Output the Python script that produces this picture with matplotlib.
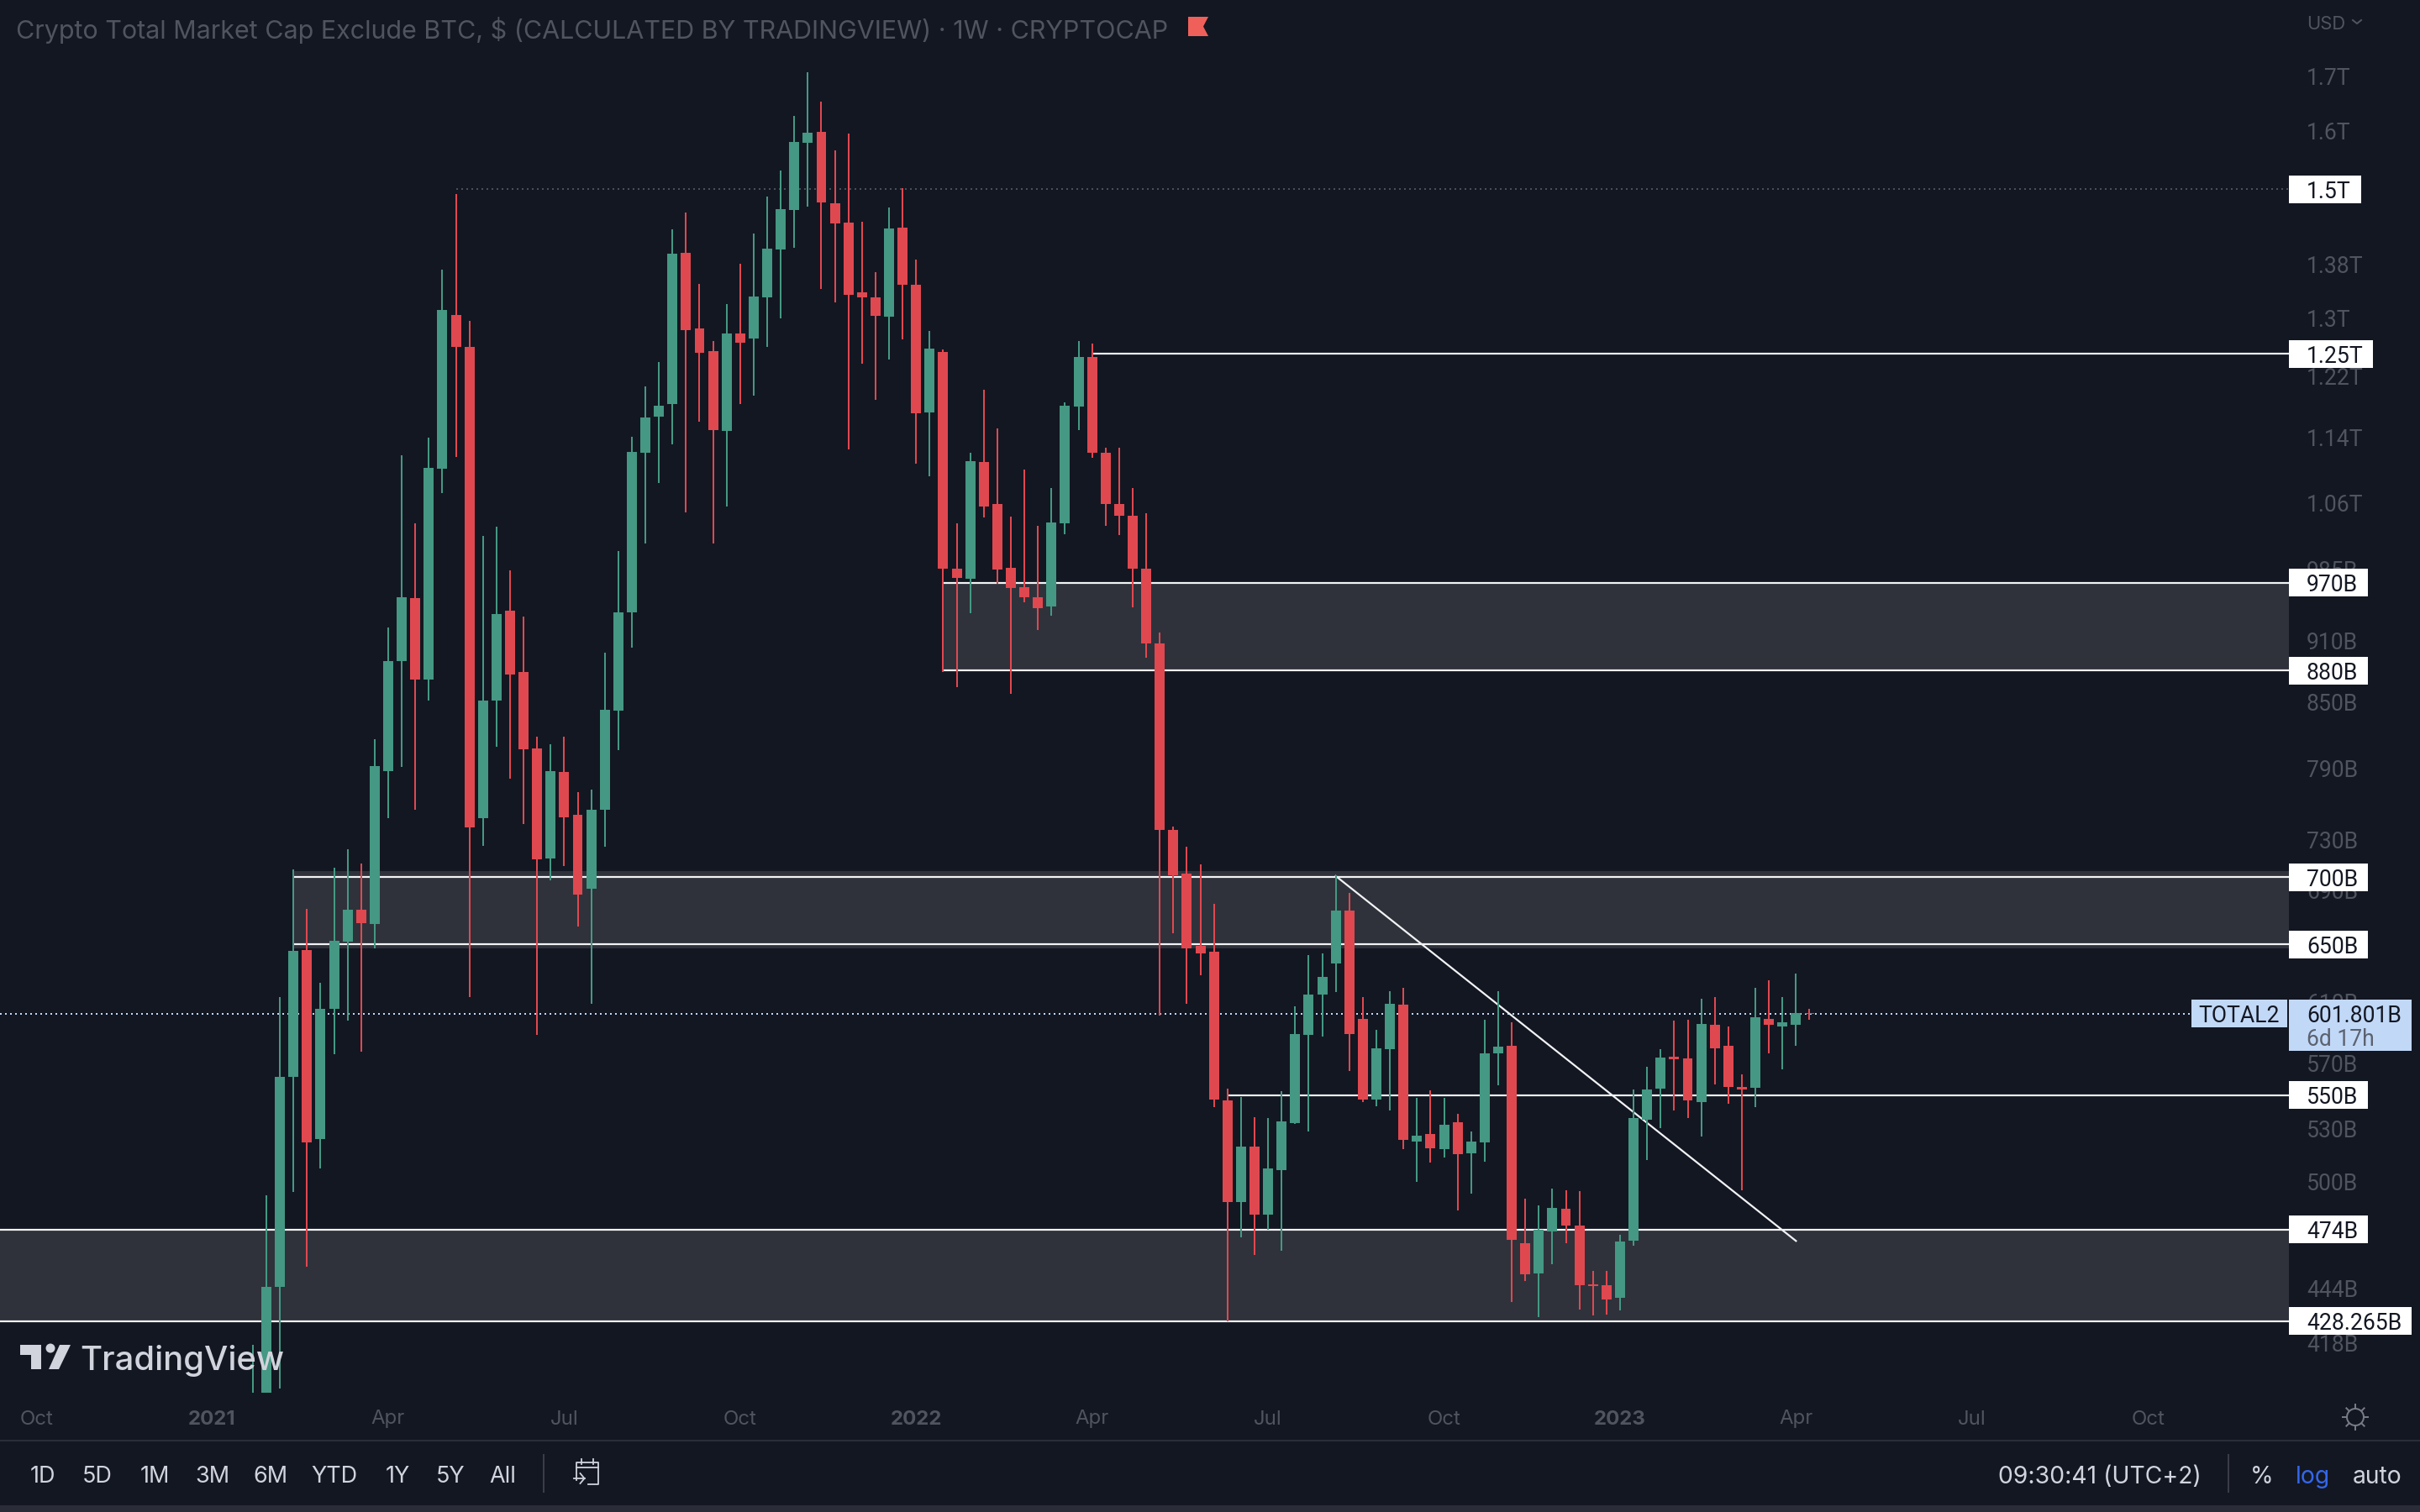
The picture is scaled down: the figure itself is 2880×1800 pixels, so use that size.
import numpy as np
import matplotlib
matplotlib.use("Agg")
import matplotlib.pyplot as plt
import matplotlib.dates as mdates
from matplotlib.patches import Rectangle, Polygon, Circle
from matplotlib.ticker import NullLocator

# ---- data (billions of USD, weekly candles) ----
first_week = "2021-01-25"
opens = [380,392,444.9,561.2,646.1,523.9,604.9,652.1,675.6,665.0,787.7,889.0,953.2,871.7,1101.0,1305.2,1259.9,747.1,851.0,940.0,
878.3,807.7,714.5,786.9,749.9,691.5,754.1,841.5,939.1,1120.6,1166.3,1181.7,1398.2,1285.9,1254.1,1147.0,1278.8,1271.6,1331.0,1403.4,
1466.2,1579.3,1598.5,1477.1,1445.8,1338.4,1331.0,1302.7,1437.8,1349.7,1171.7,1252.9,985.6,974.7,1109.2,1058.8,986.5,964.8,954.9,944.4,
1036.3,1179.4,1245.8,1120.6,1058.8,1045.1,985.6,907.3,738.0,702.6,649.0,644.8,546.9,488.5,519.6,482.0,506.2,533.2,588.2,614.5,
636.4,674.9,598.7,547.4,578.8,607.7,522.5,526.8,518.0,533.7,515.7,521.9,576.1,581.0,466.8,451.5,472.9,484.8,476.0,446.0,
445.7,439.5,468.1,535.3,554.1,573.9,572.9,545.8,594.7,581.0,555.1,554.6,598.7,593.6,594.7,602.6]
highs = [417.2,492.2,612.8,705.9,676.2,623.1,707.8,722.4,711.1,815.3,923.5,1117.5,1036.3,1139.5,1372.5,1492.2,1296.7,1022.0,1032.5,983.8,
933.9,817.6,810.8,818.3,769.6,771.1,898.1,1004.2,1140.6,1205.0,1238.9,1435.1,1462.0,1350.8,1268.1,1321.1,1381.4,1428.4,1488.1,1531.6,
1627.0,1707.7,1653.0,1566.2,1595.5,1447.2,1368.6,1470.3,1502.0,1387.8,1282.3,1256.3,1036.3,1120.6,1201.5,1151.2,1044.1,1099.9,1033.5,1077.7,
1184.9,1268.1,1264.5,1126.8,1126.8,1077.7,1047.1,918.3,740.8,723.8,709.8,679.9,554.1,548.9,536.8,536.3,552.5,607.1,642.4,643.7,
701.3,688.2,613.3,591.4,617.3,619.6,548.4,553.0,548.4,538.8,528.4,598.1,617.3,596.4,490.4,486.7,495.9,495.0,494.5,452.8,
452.8,471.3,553.5,567.6,578.8,597.1,598.1,612.2,613.3,593.6,562.8,619.6,624.8,613.3,629.4,604.9]
lows = [375,385,397.5,494.1,454.9,507.1,575.6,597.1,577.1,646.8,747.1,791.3,754.1,851.0,1071.7,1115.4,613.3,724.5,809.2,781.1,
742.2,587.7,697.4,708.5,663.1,608.8,723.8,806.2,902.3,1013.5,1083.7,1131.1,1048.1,1158.8,1013.5,1055.8,1182.7,1193.7,1259.9,1300.3,
1406.0,1471.6,1343.4,1323.5,1123.8,1236.7,1187.2,1242.4,1270.5,1107.1,1091.8,878.3,864.5,938.2,1043.0,968.4,858.0,948.8,920.9,934.8,
1023.9,1149.1,1113.4,1033.5,1023.0,943.5,892.3,600.4,658.2,608.8,628.3,542.8,428.265,469.9,460.9,473.7,463.0,532.7,528.4,586.6,
616.7,564.8,545.8,543.3,540.8,518.1,499.6,510.4,513.2,483.9,493.1,510.9,556.1,437.4,447.7,430.2,456.2,466.8,433.8,431.0,
431.4,433.4,465.5,511.8,530.3,540.8,536.3,525.4,556.6,544.8,495.0,542.8,576.1,566.0,581.0,598.1]
closes = [394,444.9,561.2,645.5,521.9,604.9,652.7,675.6,665.6,792.1,889.7,954.1,871.7,1102.0,1312.5,1259.9,739.5,851.7,936.5,876.6,
807.0,713.8,787.7,748.4,687.0,754.7,842.3,939.1,1121.6,1165.2,1180.5,1396.9,1283.5,1251.7,1149.1,1278.8,1265.7,1332.1,1404.7,1467.5,
1580.6,1597.1,1478.5,1444.5,1334.6,1331.0,1304.0,1436.5,1349.7,1170.6,1257.5,985.6,975.6,1110.2,1055.8,984.7,963.9,954.9,942.7,1037.3,
1180.5,1245.8,1119.6,1058.8,1045.1,985.6,906.5,738.0,701.9,647.3,643.7,547.4,488.5,519.6,482.0,507.1,534.2,588.7,614.5,627.1,
674.9,588.7,547.4,579.5,608.3,523.4,525.9,518.5,532.3,515.2,522.5,576.1,580.4,468.6,451.1,473.7,485.3,476.0,445.7,445.3,
438.7,467.7,536.3,553.5,573.4,572.4,546.9,595.3,579.5,555.1,553.5,599.8,594.7,596.4,602.6,601.801]

price_ticks = [1700,1600,1380,1300,1220,1140,1060,985,910,850,790,730,690,610,570,530,500,444,418]
price_labels = ["1.7T","1.6T","1.38T","1.3T","1.22T","1.14T","1.06T","985B","910B","850B","790B","730B","690B",
                "610B","570B","530B","500B","444B","418B"]
time_ticks = ["2020-10-05","2021-01-04","2021-04-05","2021-07-05","2021-10-04","2022-01-03","2022-04-04",
              "2022-07-04","2022-10-03","2023-01-02","2023-04-03","2023-07-03","2023-10-02"]
time_labels = ["Oct","2021","Apr","Jul","Oct","2022","Apr","Jul","Oct","2023","Apr","Jul","Oct"]
bold_labels = ["2021","2022","2023"]

zone_starts = ["2021-02-15","2022-01-17","2020-09-01"]
zone_highs = [704.7,970,474]
zone_lows = [646.8,880,428.265]
level_values = [700,650,970,880,474,428.265,550,1250]
level_starts = ["2021-02-15","2021-02-15","2022-01-17","2022-01-17","2020-09-01","2020-09-01","2022-06-13","2022-04-04"]
dotted_value = 1500
dotted_start = "2021-05-10"
last_price = 601.801
trend_dates = ["2022-08-08","2023-04-03"]
trend_values = [701.0,468.0]
box_values = [1500,1250,970,880,700,650,550,474,428.265]
box_labels = ["1.5T","1.25T","970B","880B","700B","650B","550B","474B","428.265B"]
range_buttons = ["1D","5D","1M","3M","6M","YTD","1Y","5Y","All"]

# ---- style ----
BG = "#131722"
UP = "#459883"
DOWN = "#E04850"
ZONE = "#2F323B"
GRAY = "#50545F"
TXT = "#D1D4DC"
BLUE = "#C1D8F7"
FONT = ["Inter", "DejaVu Sans"]
PRICE_FONT = ["Roboto", "DejaVu Sans"]
plt.rcParams["font.family"] = FONT
W, H = 2880, 1800
DPI = 100
px = 72 / DPI  # points per pixel

fig = plt.figure(figsize=(W / DPI, H / DPI), dpi=DPI, facecolor=BG)
PANE_R, PANE_B = 2724, 1658
ax = fig.add_axes([0, 1 - PANE_B / H, PANE_R / W, PANE_B / H], facecolor=BG)
ax.set_yscale("log")
ax.set_ylim(395.6, 1849.2)
d0 = mdates.date2num(np.datetime64("2021-02-01"))
ax.set_xlim(d0 - 137.74, d0 + 1045.9)
ax.xaxis_date()

num = lambda s: mdates.date2num(np.datetime64(s))
right = ax.get_xlim()[1]
left = ax.get_xlim()[0]

# zones and levels
for s, hi, lo in zip(zone_starts, zone_highs, zone_lows):
    x0 = max(num(s), left)
    ax.fill_between([x0, right], lo, hi, color=ZONE, lw=0, zorder=1)
for v, s in zip(level_values, level_starts):
    x0 = max(num(s), left)
    ax.plot([x0, right], [v, v], color="#F2F3F5", lw=2.2 * px, zorder=2, solid_capstyle="butt")
ax.plot([num(dotted_start), right], [dotted_value] * 2, color="#5A5D66", lw=1.6 * px, zorder=2,
        dashes=(2 / 1.6, 4 / 1.6))
ax.plot([left, right], [last_price] * 2, color=BLUE, lw=2 * px, zorder=2, dashes=(1, 2))
ax.plot([num(t) for t in trend_dates], trend_values, color="#F2F3F5", lw=2.2 * px, zorder=2)

# candles
dates = np.datetime64(first_week) + 7 * np.arange(len(opens)) * np.timedelta64(1, "D")
xs = mdates.date2num(dates)
o, h, l, c = map(np.array, (opens, highs, lows, closes))
colors = [UP if b >= a else DOWN for a, b in zip(o, c)]
ax.vlines(xs, l, h, colors=colors, lw=2.0 * px, zorder=3, capstyle="butt")
ax.bar(xs, np.abs(c - o), bottom=np.minimum(o, c), width=5.2, color=colors, lw=0, zorder=4)

for s in ax.spines.values():
    s.set_visible(False)
ax.yaxis.tick_right()
ax.set_yticks(price_ticks)
ax.set_yticklabels(price_labels, family=PRICE_FONT)
ax.yaxis.set_minor_locator(NullLocator())
ax.tick_params(axis="y", length=0, pad=21 * px, labelsize=26.5 * px, labelcolor=GRAY)
ax.set_xticks([num(t) for t in time_ticks])
ax.set_xticklabels(time_labels)
ax.tick_params(axis="x", length=0, pad=20.5 * px, labelsize=24 * px, labelcolor=GRAY)
for t in ax.get_xticklabels():
    if t.get_text() in bold_labels:
        t.set_fontweight("bold")

# ---- chart furniture in screen pixels ----
ov = fig.add_axes([0, 0, 1, 1], facecolor="none", zorder=5)
ov.set_xlim(0, W)
ov.set_ylim(H, 0)
ov.axis("off")
fig.canvas.draw()


def ypx(v):
    return H - ax.transData.transform((left, v))[1]


def label(x, y, s, color=TXT, size=27, ha="center", **kw):
    ov.text(x, y, s, color=color, fontsize=size * px, ha=ha, va="center_baseline", **kw)


# price boxes
box_right = {"1.5T": 2810, "1.25T": 2824, "428.265B": 2870}
for v, s in zip(box_values, box_labels):
    y = ypx(v)
    ov.add_patch(Rectangle((2724, y - 16.5), box_right.get(s, 2818) - 2724, 33, fc="white", ec="none", zorder=3))
    label(2745, y, s, color="#131722", size=26.5, ha="left", zorder=4, family=PRICE_FONT)

ylast = ypx(last_price)
ov.add_patch(Rectangle((2608, ylast - 17), 114, 33, fc=BLUE, ec="none", zorder=3))
ov.add_patch(Rectangle((2724, ylast - 17), 146, 61.5, fc=BLUE, ec="none", zorder=3))
label(2665, ylast, "TOTAL2", color="#131722", size=26.5, zorder=4, family=PRICE_FONT)
label(2745, ylast, "601.801B", color="#131722", size=26.5, ha="left", zorder=4, family=PRICE_FONT)
label(2745, ylast + 28, "6d 17h", color="#5B6270", size=26.5, ha="left", zorder=4, family=PRICE_FONT)
# the price line stops at its label: cover the gap between the two label boxes
ov.add_patch(Rectangle((2722, ylast - 2), 2, 4, fc=BG, ec="none", zorder=2))

# title and header
label(19, 33, "Crypto Total Market Cap Exclude BTC, $ (CALCULATED BY TRADINGVIEW) · 1W · CRYPTOCAP",
      color=GRAY, size=30.45, ha="left")
ov.add_patch(Polygon([(1414, 20), (1438, 20), (1432, 31.5), (1438, 43), (1414, 43)], fc="#F0605A", ec="none"))
label(2745, 27, "USD", color=GRAY, size=22, ha="left")
ov.plot([2800, 2805, 2810], [24, 28, 24], color=GRAY, lw=2 * px)

# watermark
wm = "#D1D4DC"
ov.add_patch(Polygon([(24, 1601), (49, 1601), (49, 1630), (37, 1630), (37, 1613), (24, 1613)], fc=wm, ec="none"))
ov.add_patch(Circle((60, 1605), 5.5, fc=wm, ec="none"))
ov.add_patch(Polygon([(71, 1601), (84, 1601), (70, 1630), (58, 1630)], fc=wm, ec="none"))
label(95, 1616, "TradingView", color=wm, size=40, ha="left", fontweight="medium")

# footer
ov.plot([0, W], [1715, 1715], color="#2A2E39", lw=2 * px)
ov.add_patch(Rectangle((0, 1792), W, 8, fc="#2A2D38", ec="none"))
for x, s in zip([51, 116, 184, 253, 322, 398, 473, 536, 598], range_buttons):
    label(x, 1755, s)
for x in (647, 2652):
    ov.plot([x, x], [1732, 1776], color="#3A3D47", lw=2 * px)
cx = 1.5
ov.plot([684 + cx, 684 + cx, 710 + cx, 710 + cx, 698 + cx], [1762, 1741, 1741, 1767, 1767], color=TXT, lw=1.8 * px)
ov.plot([684 + cx, 710 + cx], [1747, 1747], color=TXT, lw=1.8 * px)
ov.plot([690 + cx, 690 + cx], [1737, 1743], color=TXT, lw=1.8 * px)
ov.plot([704 + cx, 704 + cx], [1737, 1743], color=TXT, lw=1.8 * px)
ov.plot([681 + cx, 694 + cx], [1760, 1760], color=TXT, lw=1.8 * px)
ov.plot([689 + cx, 694 + cx, 689 + cx], [1754, 1760, 1766], color=TXT, lw=1.8 * px)
label(2499, 1755, "09:30:41 (UTC+2)", size=28.3)
label(2692, 1755, "%", size=28.3)
label(2753, 1755, "log", color="#3366EA", size=28.3)
label(2829, 1755, "auto", size=28.3)

# sun icon
sx, sy = 2803, 1687
ov.add_patch(Circle((sx, sy), 10, fc="none", ec="#787B86", lw=2 * px))
for a in np.deg2rad(np.arange(0, 360, 45)):
    ov.plot([sx + 11 * np.cos(a), sx + 15 * np.cos(a)], [sy + 11 * np.sin(a), sy + 15 * np.sin(a)],
            color="#787B86", lw=2 * px)

fig.savefig("out.png", dpi=DPI, facecolor=BG)
